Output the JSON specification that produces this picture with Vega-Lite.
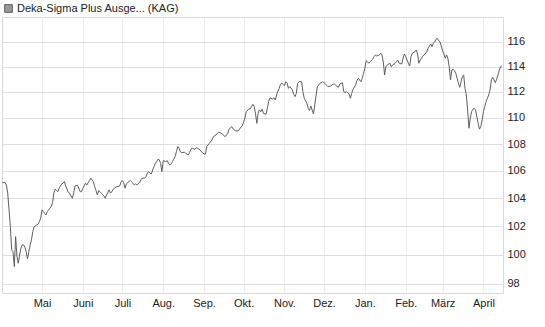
{
  "$schema": "https://vega.github.io/schema/vega-lite/v6.json",
  "width": 501,
  "height": 276,
  "autosize": "none",
  "padding": {"left": 2, "top": 17, "right": 42, "bottom": 34},
  "background": "#ffffff",
  "config": {
    "view": {"stroke": "#d9d9d9", "strokeWidth": 1},
    "font": "Liberation Sans"
  },
  "data": {
    "values": [
      {"d":"2025-04-01","v":105.14},{"d":"2025-04-03","v":105.14},{"d":"2025-04-04","v":104.97},{"d":"2025-04-05","v":104.37},{"d":"2025-04-06","v":103.16},{"d":"2025-04-07","v":101.96},{"d":"2025-04-08","v":100.32},{"d":"2025-04-09","v":100.20},{"d":"2025-04-10","v":99.17},{"d":"2025-04-11","v":101.26},{"d":"2025-04-12","v":99.86},{"d":"2025-04-13","v":99.40},{"d":"2025-04-14","v":99.97},{"d":"2025-04-15","v":100.44},{"d":"2025-04-16","v":100.68},{"d":"2025-04-17","v":100.68},{"d":"2025-04-18","v":100.51},{"d":"2025-04-19","v":100.20},{"d":"2025-04-20","v":99.70},{"d":"2025-04-21","v":100.20},{"d":"2025-04-22","v":100.68},{"d":"2025-04-23","v":101.03},{"d":"2025-04-24","v":101.61},{"d":"2025-04-25","v":101.96},{"d":"2025-04-27","v":102.09},{"d":"2025-04-28","v":102.14},{"d":"2025-04-29","v":102.32},{"d":"2025-04-30","v":102.57},
      {"d":"2025-05-01","v":103.16},{"d":"2025-05-02","v":103.04},{"d":"2025-05-03","v":102.92},{"d":"2025-05-04","v":102.80},{"d":"2025-05-05","v":103.04},{"d":"2025-05-07","v":103.28},{"d":"2025-05-08","v":103.40},{"d":"2025-05-09","v":103.68},{"d":"2025-05-10","v":104.37},{"d":"2025-05-11","v":104.66},{"d":"2025-05-12","v":104.56},{"d":"2025-05-13","v":104.48},{"d":"2025-05-14","v":104.73},{"d":"2025-05-16","v":105.05},{"d":"2025-05-17","v":105.10},{"d":"2025-05-18","v":105.22},{"d":"2025-05-19","v":104.90},{"d":"2025-05-21","v":104.41},{"d":"2025-05-22","v":104.37},{"d":"2025-05-23","v":104.17},{"d":"2025-05-24","v":104.00},{"d":"2025-05-25","v":104.37},{"d":"2025-05-26","v":104.90},{"d":"2025-05-28","v":104.95},{"d":"2025-05-30","v":104.48},{"d":"2025-05-31","v":104.48},
      {"d":"2025-06-01","v":104.73},{"d":"2025-06-03","v":105.10},{"d":"2025-06-04","v":104.97},{"d":"2025-06-06","v":105.29},{"d":"2025-06-07","v":105.47},{"d":"2025-06-09","v":105.22},{"d":"2025-06-10","v":104.85},{"d":"2025-06-11","v":104.56},{"d":"2025-06-12","v":104.24},{"d":"2025-06-13","v":104.56},{"d":"2025-06-14","v":104.48},{"d":"2025-06-15","v":104.37},{"d":"2025-06-17","v":104.17},{"d":"2025-06-18","v":104.00},{"d":"2025-06-19","v":104.24},{"d":"2025-06-21","v":104.61},{"d":"2025-06-22","v":104.37},{"d":"2025-06-23","v":104.48},{"d":"2025-06-24","v":104.66},{"d":"2025-06-26","v":104.81},{"d":"2025-06-27","v":104.85},{"d":"2025-06-29","v":104.90},{"d":"2025-06-30","v":105.22},
      {"d":"2025-07-01","v":105.29},{"d":"2025-07-02","v":105.14},{"d":"2025-07-03","v":104.73},{"d":"2025-07-04","v":105.05},{"d":"2025-07-06","v":105.22},{"d":"2025-07-07","v":105.29},{"d":"2025-07-09","v":105.10},{"d":"2025-07-10","v":104.97},{"d":"2025-07-11","v":105.05},{"d":"2025-07-12","v":104.97},{"d":"2025-07-14","v":105.14},{"d":"2025-07-15","v":105.34},{"d":"2025-07-16","v":105.47},{"d":"2025-07-18","v":105.47},{"d":"2025-07-19","v":105.58},{"d":"2025-07-20","v":105.88},{"d":"2025-07-21","v":105.95},{"d":"2025-07-22","v":105.83},{"d":"2025-07-23","v":105.78},{"d":"2025-07-24","v":106.07},{"d":"2025-07-25","v":106.32},{"d":"2025-07-26","v":106.57},{"d":"2025-07-27","v":106.69},{"d":"2025-07-28","v":106.87},{"d":"2025-07-29","v":106.82},{"d":"2025-07-30","v":106.57},{"d":"2025-07-31","v":105.95},
      {"d":"2025-08-01","v":106.77},{"d":"2025-08-03","v":106.69},{"d":"2025-08-04","v":106.77},{"d":"2025-08-05","v":106.57},{"d":"2025-08-06","v":106.45},{"d":"2025-08-07","v":106.52},{"d":"2025-08-08","v":106.69},{"d":"2025-08-09","v":106.87},{"d":"2025-08-10","v":107.06},{"d":"2025-08-11","v":107.43},{"d":"2025-08-12","v":107.81},{"d":"2025-08-13","v":107.69},{"d":"2025-08-14","v":107.43},{"d":"2025-08-15","v":107.36},{"d":"2025-08-17","v":107.39},{"d":"2025-08-18","v":107.32},{"d":"2025-08-20","v":107.19},{"d":"2025-08-21","v":107.36},{"d":"2025-08-22","v":107.61},{"d":"2025-08-23","v":107.69},{"d":"2025-08-25","v":107.61},{"d":"2025-08-26","v":107.73},{"d":"2025-08-27","v":107.69},{"d":"2025-08-29","v":107.56},{"d":"2025-08-30","v":107.43},
      {"d":"2025-09-01","v":107.26},{"d":"2025-09-02","v":107.24},{"d":"2025-09-03","v":107.81},{"d":"2025-09-05","v":108.06},{"d":"2025-09-07","v":108.31},{"d":"2025-09-08","v":108.56},{"d":"2025-09-10","v":108.69},{"d":"2025-09-12","v":108.90},{"d":"2025-09-14","v":108.82},{"d":"2025-09-15","v":108.75},{"d":"2025-09-17","v":108.56},{"d":"2025-09-19","v":108.82},{"d":"2025-09-20","v":109.15},{"d":"2025-09-22","v":109.32},{"d":"2025-09-23","v":109.15},{"d":"2025-09-25","v":109.00},{"d":"2025-09-27","v":109.00},{"d":"2025-09-28","v":109.15},{"d":"2025-09-30","v":109.40},
      {"d":"2025-10-01","v":109.70},{"d":"2025-10-02","v":109.96},{"d":"2025-10-03","v":110.47},{"d":"2025-10-05","v":110.68},{"d":"2025-10-06","v":110.68},{"d":"2025-10-07","v":110.86},{"d":"2025-10-08","v":111.04},{"d":"2025-10-09","v":110.86},{"d":"2025-10-10","v":110.35},{"d":"2025-10-11","v":109.58},{"d":"2025-10-12","v":110.35},{"d":"2025-10-13","v":110.60},{"d":"2025-10-14","v":110.47},{"d":"2025-10-15","v":110.68},{"d":"2025-10-16","v":110.35},{"d":"2025-10-18","v":110.27},{"d":"2025-10-19","v":110.73},{"d":"2025-10-20","v":111.24},{"d":"2025-10-21","v":111.55},{"d":"2025-10-23","v":111.45},{"d":"2025-10-24","v":111.55},{"d":"2025-10-25","v":111.37},{"d":"2025-10-27","v":112.07},{"d":"2025-10-28","v":112.28},{"d":"2025-10-29","v":112.60},{"d":"2025-10-30","v":112.68},
      {"d":"2025-11-01","v":112.49},{"d":"2025-11-02","v":112.80},{"d":"2025-11-03","v":112.68},{"d":"2025-11-04","v":112.28},{"d":"2025-11-05","v":112.41},{"d":"2025-11-07","v":112.15},{"d":"2025-11-08","v":111.81},{"d":"2025-11-09","v":111.63},{"d":"2025-11-10","v":111.89},{"d":"2025-11-11","v":112.68},{"d":"2025-11-12","v":112.80},{"d":"2025-11-14","v":112.80},{"d":"2025-11-15","v":112.02},{"d":"2025-11-16","v":111.51},{"d":"2025-11-18","v":111.12},{"d":"2025-11-19","v":110.73},{"d":"2025-11-20","v":110.55},{"d":"2025-11-21","v":110.91},{"d":"2025-11-23","v":110.29},{"d":"2025-11-24","v":110.99},{"d":"2025-11-25","v":111.76},{"d":"2025-11-26","v":112.41},{"d":"2025-11-28","v":112.68},{"d":"2025-11-30","v":112.80},
      {"d":"2025-12-02","v":112.62},{"d":"2025-12-04","v":112.41},{"d":"2025-12-06","v":112.46},{"d":"2025-12-08","v":112.62},{"d":"2025-12-09","v":112.60},{"d":"2025-12-11","v":112.41},{"d":"2025-12-12","v":112.36},{"d":"2025-12-13","v":112.62},{"d":"2025-12-15","v":112.72},{"d":"2025-12-16","v":112.02},{"d":"2025-12-17","v":111.94},{"d":"2025-12-18","v":112.02},{"d":"2025-12-20","v":111.84},{"d":"2025-12-21","v":111.51},{"d":"2025-12-22","v":111.89},{"d":"2025-12-23","v":112.20},{"d":"2025-12-25","v":112.54},{"d":"2025-12-26","v":112.88},{"d":"2025-12-27","v":113.07},{"d":"2025-12-29","v":112.80},{"d":"2025-12-30","v":113.07},{"d":"2025-12-31","v":113.46},
      {"d":"2026-01-01","v":113.86},{"d":"2026-01-02","v":114.46},{"d":"2026-01-03","v":114.38},{"d":"2026-01-04","v":114.26},{"d":"2026-01-05","v":114.38},{"d":"2026-01-07","v":114.58},{"d":"2026-01-08","v":114.78},{"d":"2026-01-09","v":114.92},{"d":"2026-01-10","v":114.84},{"d":"2026-01-12","v":114.92},{"d":"2026-01-13","v":115.06},{"d":"2026-01-14","v":114.92},{"d":"2026-01-15","v":114.36},{"d":"2026-01-16","v":113.33},{"d":"2026-01-17","v":113.98},{"d":"2026-01-18","v":114.12},{"d":"2026-01-20","v":114.26},{"d":"2026-01-21","v":113.98},{"d":"2026-01-22","v":114.12},{"d":"2026-01-24","v":114.26},{"d":"2026-01-25","v":114.38},{"d":"2026-01-26","v":114.52},{"d":"2026-01-27","v":114.26},{"d":"2026-01-29","v":114.20},{"d":"2026-01-30","v":114.66},{"d":"2026-01-31","v":115.00},
      {"d":"2026-02-01","v":114.78},{"d":"2026-02-02","v":114.52},{"d":"2026-02-03","v":114.26},{"d":"2026-02-04","v":114.04},{"d":"2026-02-05","v":114.78},{"d":"2026-02-06","v":115.06},{"d":"2026-02-08","v":115.18},{"d":"2026-02-09","v":115.32},{"d":"2026-02-10","v":115.00},{"d":"2026-02-11","v":114.26},{"d":"2026-02-12","v":114.52},{"d":"2026-02-13","v":114.66},{"d":"2026-02-14","v":114.84},{"d":"2026-02-15","v":114.92},{"d":"2026-02-17","v":115.18},{"d":"2026-02-18","v":115.46},{"d":"2026-02-19","v":115.64},{"d":"2026-02-20","v":115.80},{"d":"2026-02-21","v":115.58},{"d":"2026-02-22","v":115.86},{"d":"2026-02-23","v":115.98},{"d":"2026-02-24","v":116.18},{"d":"2026-02-25","v":116.26},{"d":"2026-02-26","v":116.07},{"d":"2026-02-27","v":115.98},{"d":"2026-02-28","v":115.64},
      {"d":"2026-03-01","v":115.26},{"d":"2026-03-02","v":115.00},{"d":"2026-03-03","v":114.66},{"d":"2026-03-04","v":114.92},{"d":"2026-03-05","v":114.66},{"d":"2026-03-06","v":113.98},{"d":"2026-03-07","v":112.94},{"d":"2026-03-08","v":113.72},{"d":"2026-03-09","v":113.78},{"d":"2026-03-10","v":113.67},{"d":"2026-03-11","v":113.46},{"d":"2026-03-12","v":113.07},{"d":"2026-03-13","v":112.68},{"d":"2026-03-14","v":112.36},{"d":"2026-03-15","v":112.80},{"d":"2026-03-16","v":113.20},{"d":"2026-03-17","v":113.33},{"d":"2026-03-18","v":112.28},{"d":"2026-03-19","v":111.76},{"d":"2026-03-20","v":110.60},{"d":"2026-03-21","v":109.20},{"d":"2026-03-22","v":109.96},{"d":"2026-03-23","v":110.47},{"d":"2026-03-24","v":110.66},{"d":"2026-03-25","v":110.73},{"d":"2026-03-26","v":110.60},{"d":"2026-03-27","v":110.08},{"d":"2026-03-28","v":109.58},{"d":"2026-03-29","v":109.13},{"d":"2026-03-30","v":109.32},{"d":"2026-03-31","v":109.83},
      {"d":"2026-04-01","v":110.47},{"d":"2026-04-02","v":110.86},{"d":"2026-04-03","v":111.24},{"d":"2026-04-04","v":111.51},{"d":"2026-04-05","v":111.76},{"d":"2026-04-06","v":112.15},{"d":"2026-04-07","v":112.94},{"d":"2026-04-08","v":113.15},{"d":"2026-04-09","v":112.94},{"d":"2026-04-10","v":112.72},{"d":"2026-04-11","v":112.99},{"d":"2026-04-12","v":113.33},{"d":"2026-04-13","v":113.72},{"d":"2026-04-14","v":113.98},{"d":"2026-04-15","v":114.04}
    ]
  },
  "mark": {"type": "line", "strokeWidth": 1, "interpolate": "linear"},
  "encoding": {
    "x": {
      "field": "d",
      "type": "temporal",
      "scale": {
        "type": "utc",
        "domain": [
          {"year": 2025, "month": 3, "date": 31, "hours": 15, "minutes": 36, "utc": true},
          {"year": 2026, "month": 4, "date": 15, "hours": 20, "utc": true}
        ],
        "nice": false
      },
      "axis": {
        "title": null,
        "values": [
          {"year": 2025, "month": 5, "date": 1, "utc": true},
          {"year": 2025, "month": 6, "date": 1, "utc": true},
          {"year": 2025, "month": 7, "date": 1, "utc": true},
          {"year": 2025, "month": 8, "date": 1, "utc": true},
          {"year": 2025, "month": 9, "date": 1, "utc": true},
          {"year": 2025, "month": 10, "date": 1, "utc": true},
          {"year": 2025, "month": 11, "date": 1, "utc": true},
          {"year": 2025, "month": 12, "date": 1, "utc": true},
          {"year": 2026, "month": 1, "date": 1, "utc": true},
          {"year": 2026, "month": 2, "date": 1, "utc": true},
          {"year": 2026, "month": 3, "date": 1, "utc": true},
          {"year": 2026, "month": 4, "date": 1, "utc": true}
        ],
        "labelExpr": "['Jan.','Feb.','März','April','Mai','Juni','Juli','Aug.','Sep.','Okt.','Nov.','Dez.'][utcmonth(datum.value)]",
        "grid": true,
        "gridColor": "#ececec",
        "gridWidth": 1,
        "ticks": false,
        "domain": false,
        "labelPadding": 4,
        "labelFont": "Liberation Sans",
        "labelFontSize": 11,
        "labelColor": "#222222",
        "labelFlush": false,
        "labelOverlap": false
      }
    },
    "y": {
      "field": "v",
      "type": "quantitative",
      "scale": {"type": "log", "domain": [97.36, 118.0], "nice": false, "zero": false},
      "axis": {
        "title": null,
        "orient": "right",
        "values": [98, 100, 102, 104, 106, 108, 110, 112, 114, 116],
        "format": "d",
        "grid": true,
        "gridColor": "#dedede",
        "gridWidth": 1,
        "ticks": false,
        "domain": false,
        "labelPadding": 4,
        "labelFont": "Liberation Sans",
        "labelFontSize": 11,
        "labelColor": "#222222",
        "labelOverlap": false
      }
    },
    "color": {
      "datum": "Deka-Sigma Plus Ausge... (KAG)",
      "type": "nominal",
      "scale": {"range": ["#5f5f5f"]},
      "legend": {
        "title": null,
        "orient": "none",
        "legendX": 1,
        "legendY": -14,
        "padding": 0,
        "symbolType": "square",
        "symbolSize": 60,
        "labelFont": "Liberation Sans",
        "labelFontSize": 11,
        "labelColor": "#222222",
        "labelOffset": 3,
        "labelLimit": 400,
        "encode": {
          "symbols": {
            "update": {
              "fill": {"value": "#999999"},
              "stroke": {"value": "#333333"},
              "strokeWidth": {"value": 1},
              "opacity": {"value": 1}
            }
          }
        }
      }
    }
  }
}
